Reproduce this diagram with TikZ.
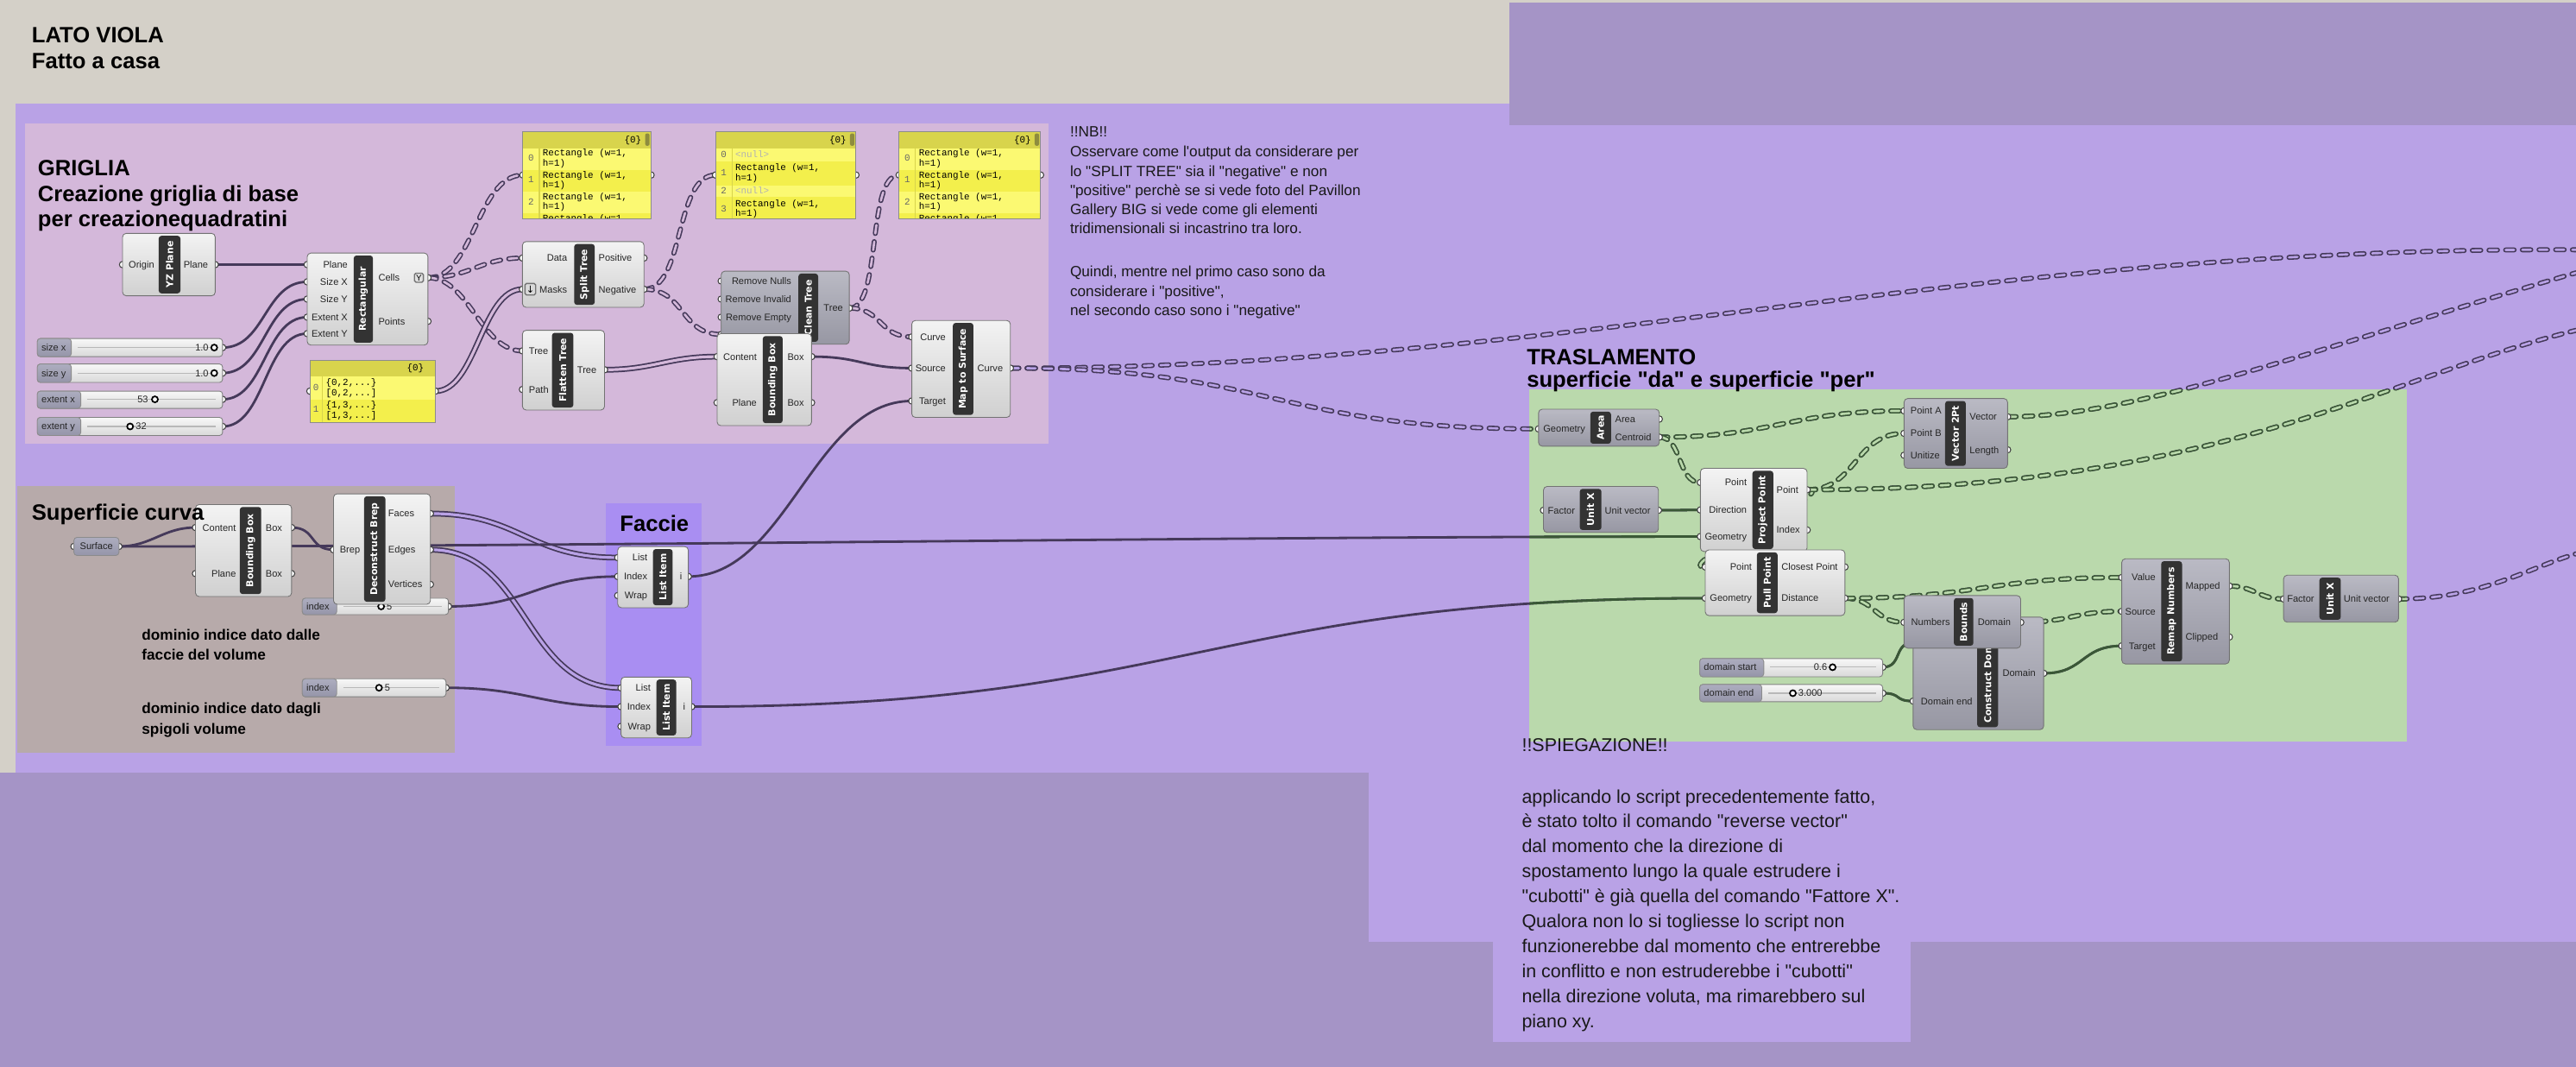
\documentclass[tikz,border=0pt]{standalone}
\usepackage{fontspec}
\setmainfont{Liberation Sans}
\newfontfamily\lib{Liberation Sans}
\newfontfamily\djv{DejaVu Sans}
\newfontfamily\monofam{Liberation Mono}
\usetikzlibrary{calc}

\definecolor{beige}{HTML}{D4D0C8}
\definecolor{darkpg}{HTML}{A594C6}
\definecolor{purp}{HTML}{B9A2E6}
\definecolor{pinkg}{HTML}{D4B8DA}
\definecolor{browng}{HTML}{B7AAAA}
\definecolor{facg}{HTML}{A98EF2}
\definecolor{greeng}{HTML}{BAD9AC}
\definecolor{wirep}{HTML}{45395A}
\definecolor{wireg}{HTML}{3A5836}
\definecolor{cLt}{HTML}{F3F3F3}
\definecolor{cLb}{HTML}{D0D0D0}
\definecolor{cDt}{HTML}{BABAC4}
\definecolor{cDb}{HTML}{9797A3}
\definecolor{slT}{HTML}{ADADBF}
\definecolor{slB}{HTML}{9595A9}
\definecolor{panY}{HTML}{F3EF4C}
\definecolor{panL}{HTML}{FBF972}
\definecolor{panH}{HTML}{D8D44C}
\definecolor{panS}{HTML}{8E8C3E}

\newcommand\gu{0.5417pt}
\newcommand\labf{\lib\fontsize{3.15}{3.6}\selectfont}
\newcommand\stripf{\djv\bfseries\fontsize{3.1}{3.5}\selectfont}
\newcommand\monf{\monofam\fontsize{3.1}{3.6}\selectfont}

\tikzset{
 cL/.style={draw=black!55, line width=0.25pt, rounded corners=1.2pt, top color=cLt, bottom color=cLb, inner sep=0pt, outer sep=0pt},
 cD/.style={draw=black!55, line width=0.25pt, rounded corners=1.2pt, top color=cDt, bottom color=cDb, inner sep=0pt, outer sep=0pt},
 slbody/.style={draw=black!50, line width=0.25pt, rounded corners=1pt, top color=white!97!black, bottom color=white!85!black, inner sep=0pt, outer sep=0pt},
 sllab/.style={draw=black!45, line width=0.25pt, rounded corners=1pt, top color=slT, bottom color=slB, inner sep=0pt, outer sep=0pt},
 panbox/.style={fill=panY, inner sep=0pt, outer sep=0pt},
 stripbox/.style={fill=black!80, rounded corners=0.9pt, inner sep=0pt, outer sep=0pt},
 striptext/.style={text=white, font=\stripf, rotate=90, inner sep=0pt},
 pl/.style={font=\labf, text=black!85, inner sep=0pt, text height=2.26pt, text depth=0pt},
 mt/.style={font=\monf, inner sep=0pt, text height=1.9pt, text depth=0pt, anchor=west},
 mi/.style={mt, text=black!60},
 mn/.style={mt, text=black!30},
 ttl/.style={font=\lib\bfseries\fontsize{7.3}{8}\selectfont, inner sep=0pt, text height=5.23pt, text depth=0pt, anchor=west},
 nbt/.style={font=\lib\fontsize{4.9}{6}\selectfont, inner sep=0pt, text height=3.51pt, text depth=0pt, anchor=west, text=black!90},
 dmt/.style={font=\lib\bfseries\fontsize{4.9}{6}\selectfont, inner sep=0pt, text height=3.51pt, text depth=0pt, anchor=west},
 spt/.style={font=\lib\fontsize{6.1}{7}\selectfont, inner sep=0pt, text height=4.37pt, text depth=0pt, anchor=west, text=black!90},
 sw/.style={draw=wirep, line width=0.8pt},
 swg/.style={draw=wireg, line width=0.8pt},
 lw/.style={draw=wirep, line width=0.5pt, double=#1, double distance=0.9pt},
 tw/.style={draw=wirep, line width=0.45pt, double=#1, double distance=0.75pt, dash pattern=on 2.8pt off 2.7pt, line cap=round},
 twg/.style={draw=wireg, line width=0.45pt, double=#1, double distance=0.75pt, dash pattern=on 2.8pt off 2.7pt, line cap=round},
 mkr/.style={circle, draw=black, line width=0.5pt, fill=white, minimum size=2pt, inner sep=0pt},
}

\newcommand\ghbox[6]{\node[#6, anchor=north west, minimum width={(#4-#2)*\gu}, minimum height={(#5-#3)*\gu}] (#1) at (#2,#3) {};}
\newcommand\ghstrip[6]{\node[stripbox, anchor=north west, minimum width={(#4-#2)*\gu}, minimum height={(#5-#3)*\gu}] (#1) at (#2,#3) {};\node[striptext] (#1-t) at (#1.center) {#6};}
\newcommand\pc[1]{\filldraw[fill=white, draw=black!75, line width=0.3pt] (#1) circle (1.05pt);}
\newcommand\wire[4]{\draw[#1] (#2) .. controls +(#4,0) and +(-#4,0) .. (#3);}
\newcommand\ghslider[8]{%
 \node[slbody, anchor=north west, minimum width={(#4-#2)*\gu}, minimum height={(#5-#3)*\gu}] (#1) at (#2,#3) {};%
 \node[sllab, anchor=north west, minimum width={(#6-#2)*\gu}, minimum height={(#5-#3)*\gu}] (#1-l) at (#2,#3) {};%
 \node[pl, anchor=west] (#1-t) at (#2+2.2,#7) {#8};%
 \draw[black!28, line width=0.3pt] (#6+4,#7) -- (#4-4,#7);}

\newcommand\rpanel[3]{%
\begin{scope}[shift={(#2,80.2)}]
 \node[panbox, anchor=north west, minimum width=#3*\gu, minimum height=52.8*\gu] (#1) at (0,0) {};
 \begin{scope}
  \clip (0,0) rectangle (#3,52.8);
  \fill[panH] (0,0) rectangle (#3,10);
  \fill[panL] (0,10) rectangle (#3,23.1);
  \fill[panL] (0,36.2) rectangle (#3,49.3);
  \draw[panH, line width=0.3pt] (10,10) -- (10,52.8);
  \node[mt, anchor=east] (#1-h) at (#3-5.5,4.9) {\{0\}};
  \fill[panS, rounded corners=0.6pt] (#3-3.6,1) rectangle (#3-0.9,8.5);
  \node[mi, anchor=center] (#1-n0) at (5,15.8) {0};
  \node[mt] (#1-a0) at (11.7,12.8) {Rectangle (w=1,};
  \node[mt] (#1-b0) at (11.7,19.1) {h=1)};
  \node[mi, anchor=center] (#1-n1) at (5,29.2) {1};
  \node[mt] (#1-a1) at (11.7,26.3) {Rectangle (w=1,};
  \node[mt] (#1-b1) at (11.7,32.3) {h=1)};
  \node[mi, anchor=center] (#1-n2) at (5,42.8) {2};
  \node[mt] (#1-a2) at (11.7,39.7) {Rectangle (w=1,};
  \node[mt] (#1-b2) at (11.7,45.5) {h=1)};
  \node[mt] (#1-a3) at (11.7,52.6) {Rectangle (w=1};
 \end{scope}
 \draw[black!45, line width=0.3pt] (0,0) rectangle (#3,52.8);
\end{scope}}

\newcommand\gwires[2]{%
 \draw[#1] (ms-o) .. controls +(160,0) and +(-160,0) .. (ar-i);
 \draw[#2] (sf-o) .. controls +(300,0) and +(-300,0) .. (pp-i3);
 \draw[#2] (li2-o) .. controls +(300,0) and +(-300,0) .. (pl-i2);
 \draw[#1] (ar-o2) .. controls +(70,0) and +(-70,0) .. (v2-i1);
 \draw[#1] (ar-o2) .. controls +(14,0) and +(-14,0) .. (pp-i1);
 \draw[#2] (ux1-o) -- (pp-i2);
 \draw[#1] (pp-o1) .. controls +(30,0) and +(-30,0) .. (v2-i2);
 \draw[#1] (pp-o1) .. controls +(22,0) and +(-22,0) .. (pl-i1);
 \draw[#1] (pp-o1) .. controls (1350,298) and (1450,230) .. (e3);
 \draw[#1] (v2-o1) .. controls (1300,253.6) and (1400,215) .. (e2);
 \draw[#1] (pl-o2) .. controls +(18,0) and +(-18,0) .. (bd-i);
 \draw[#1] (pl-o2) .. controls +(80,0) and +(-80,0) .. (rm-i1);
 \draw[#1] (bd-o) .. controls +(30,0) and +(-30,0) .. (rm-i2);
 \draw[#2] (ds-o) .. controls +(12,0) and +(-12,0) .. (cd-i1);
 \draw[#2] (de-o) .. controls +(12,0) and +(-12,0) .. (cd-i2);
 \draw[#2] (cd-o) .. controls +(25,0) and +(-25,0) .. (rm-i3);
 \draw[#1] (rm-o1) .. controls +(15,0) and +(-15,0) .. (ux2-i);
 \draw[#1] (ux2-o) .. controls (1510,364.5) and (1540,345) .. (e4);
}

\begin{document}
\begin{tikzpicture}[x=0.01904cm,y=-0.01904cm]
\lib
\useasboundingbox (0,0) rectangle (1568,649);
% ---------- backgrounds ----------
\fill[beige] (0,0) rectangle (1568,649);
\fill[purp] (9.5,63) rectangle (1568,470);
\fill[purp] (833,470) rectangle (1568,573);
\fill[darkpg] (0,470) rectangle (833,649);
\fill[darkpg] (833,573) rectangle (1568,649);
\fill[darkpg] (918.6,1.5) rectangle (1568,76);
\fill[pinkg] (15,75) rectangle (638,270);
\fill[browng] (10.5,296) rectangle (277,458);
\fill[facg] (369,306) rectangle (427,454);
\fill[purp] (909,440) rectangle (1163,634);
\fill[greeng] (931,237) rectangle (1465,451);

% ---------- port coordinates ----------
\coordinate (yz-i) at (74.6,161); \coordinate (yz-o) at (131,161);
\coordinate (rect-i1) at (187,161); \coordinate (rect-i2) at (187,171.5);
\coordinate (rect-i3) at (187,182); \coordinate (rect-i4) at (187,193);
\coordinate (rect-i5) at (187,203); \coordinate (rect-o1) at (260.5,169);
\coordinate (rect-o2) at (260.5,195.5);
\coordinate (sx-o) at (135.5,211.5); \coordinate (sy-o) at (135.5,227);
\coordinate (ex-o) at (135.5,243); \coordinate (ey-o) at (135.5,259.5);
\coordinate (mp-i) at (188.6,238); \coordinate (mp-o) at (265,238);
\coordinate (p1-i) at (318.3,106.5); \coordinate (p1-o) at (396.3,106.5);
\coordinate (p2-i) at (435.5,106.5); \coordinate (p2-o) at (521,106.5);
\coordinate (p3-i) at (547.3,106.5); \coordinate (p3-o) at (633.4,106.5);
\coordinate (st-i1) at (318,157); \coordinate (st-i2) at (318,176);
\coordinate (st-o1) at (392,157); \coordinate (st-o2) at (392,176);
\coordinate (ft-i1) at (318,213.5); \coordinate (ft-i2) at (318,237); \coordinate (ft-o) at (368,225);
\coordinate (ct-i1) at (439,171); \coordinate (ct-i2) at (439,182);
\coordinate (ct-i3) at (439,193); \coordinate (ct-i4) at (439,203.5); \coordinate (ct-o) at (517,187.5);
\coordinate (bb1-i1) at (436.5,217); \coordinate (bb1-i2) at (436.5,245);
\coordinate (bb1-o1) at (494,217); \coordinate (bb1-o2) at (494,245);
\coordinate (ms-i1) at (555,205); \coordinate (ms-i2) at (555,224);
\coordinate (ms-i3) at (555,244); \coordinate (ms-o) at (615,224);
\coordinate (sf-i) at (45,332.5); \coordinate (sf-o) at (72.4,332.5);
\coordinate (bb2-i1) at (119,321); \coordinate (bb2-i2) at (119,349);
\coordinate (bb2-o1) at (177.5,321); \coordinate (bb2-o2) at (177.5,349);
\coordinate (db-i) at (203,334.5); \coordinate (db-o1) at (262,312.5);
\coordinate (db-o2) at (262,334.5); \coordinate (db-o3) at (262,355.6);
\coordinate (ix1-o) at (273,369); \coordinate (ix2-o) at (271.5,418.5);
\coordinate (li1-i1) at (376,339.3); \coordinate (li1-i2) at (376,350.8);
\coordinate (li1-i3) at (376,362.4); \coordinate (li1-o) at (419,350.8);
\coordinate (li2-i1) at (378,418.6); \coordinate (li2-i2) at (378,430);
\coordinate (li2-i3) at (378,442); \coordinate (li2-o) at (421,430);
\coordinate (ar-i) at (936.5,261); \coordinate (ar-o1) at (1010,255); \coordinate (ar-o2) at (1010,266);
\coordinate (ux1-i) at (939.5,310.5); \coordinate (ux1-o) at (1009.5,310.5);
\coordinate (pp-i1) at (1035,293.6); \coordinate (pp-i2) at (1035,310.3);
\coordinate (pp-i3) at (1035,326.5); \coordinate (pp-o1) at (1100,298); \coordinate (pp-o2) at (1100,322.5);
\coordinate (pl-i1) at (1038,345); \coordinate (pl-i2) at (1038,364);
\coordinate (pl-o1) at (1123,345); \coordinate (pl-o2) at (1123,364);
\coordinate (v2-i1) at (1159,250); \coordinate (v2-i2) at (1159,263.7); \coordinate (v2-i3) at (1159,277);
\coordinate (v2-o1) at (1222,253.6); \coordinate (v2-o2) at (1222,273.7);
\coordinate (bd-i) at (1159,378.7); \coordinate (bd-o) at (1230,378.7);
\coordinate (cd-i1) at (1164.5,391); \coordinate (cd-i2) at (1164.5,426.6); \coordinate (cd-o) at (1244,409.7);
\coordinate (ds-o) at (1146,406); \coordinate (de-o) at (1146,421.8);
\coordinate (rm-i1) at (1291.5,351.4); \coordinate (rm-i2) at (1291.5,372); \coordinate (rm-i3) at (1291.5,393);
\coordinate (rm-o1) at (1357,356.6); \coordinate (rm-o2) at (1357,387.6);
\coordinate (ux2-i) at (1390,364.5); \coordinate (ux2-o) at (1460,364.5);
\coordinate (e1) at (1568,152); \coordinate (e2) at (1568,166);
\coordinate (e3) at (1568,201); \coordinate (e4) at (1568,337);

% ---------- wires ----------
\wire{sw}{yz-o}{rect-i1}{20}
\wire{sw}{sx-o}{rect-i2}{26}
\wire{sw}{sy-o}{rect-i3}{26}
\wire{sw}{ex-o}{rect-i4}{26}
\wire{sw}{ey-o}{rect-i5}{26}
\wire{tw=pinkg}{rect-o1}{p1-i}{28}
\wire{tw=pinkg}{rect-o1}{st-i1}{25}
\wire{tw=pinkg}{rect-o1}{ft-i1}{25}
\wire{lw=pinkg}{mp-o}{st-i2}{25}
\wire{tw=pinkg}{st-o2}{p2-i}{25}
\wire{tw=pinkg}{st-o2}{ct-i4}{25}
\wire{tw=pinkg}{ct-o}{p3-i}{20}
\wire{tw=pinkg}{ct-o}{ms-i1}{20}
\wire{lw=pinkg}{ft-o}{bb1-i1}{30}
\wire{sw}{bb1-o1}{ms-i2}{30}
\wire{sw}{li1-o}{ms-i3}{60}
\draw[tw=purp] (ms-o) .. controls (950,224) and (1200,150) .. (e1);
\wire{sw}{sf-o}{bb2-i1}{20}
\wire{sw}{bb2-o1}{db-i}{15}
\wire{lw=purp}{db-o1}{li1-i1}{55}
\wire{lw=purp}{db-o2}{li2-i1}{60}
\wire{sw}{ix1-o}{li1-i2}{50}
\wire{sw}{ix2-o}{li2-i2}{50}
\gwires{tw=purp}{sw}
\begin{scope}
 \clip (931,237) rectangle (1465,451);
 \gwires{twg=greeng}{swg}
\end{scope}

% ---------- GRIGLIA components ----------
\pc{yz-i}\pc{yz-o}
\ghbox{yz}{74.6}{142}{131}{180}{cL}
\ghstrip{yz-s}{96.6}{143.5}{109.8}{178.5}{YZ Plane}
\node[pl, anchor=west] (yz-l1) at (78,161) {Origin};
\node[pl, anchor=east] (yz-l2) at (127,161) {Plane};

\pc{rect-i1}\pc{rect-i2}\pc{rect-i3}\pc{rect-i4}\pc{rect-i5}\pc{rect-o1}\pc{rect-o2}
\ghbox{rect}{187}{154}{260.5}{210}{cL}
\ghstrip{rect-s}{215.3}{155.5}{227}{208.5}{Rectangular}
\node[pl, anchor=east] (rect-l1) at (212,161) {Plane};
\node[pl, anchor=east] (rect-l2) at (212,171.5) {Size X};
\node[pl, anchor=east] (rect-l3) at (212,182) {Size Y};
\node[pl, anchor=east] (rect-l4) at (212,193) {Extent X};
\node[pl, anchor=east] (rect-l5) at (212,203) {Extent Y};
\node[pl, anchor=west] (rect-l6) at (230,169) {Cells};
\node[pl, anchor=west] (rect-l7) at (230,195.5) {Points};
\node[draw=black!55, fill=white!88!black, rounded corners=0.5pt, minimum width=5.5*\gu, minimum height=5.5*\gu, inner sep=0pt, font=\lib\fontsize{2.8}{3}\selectfont] (rect-g) at (255,169) {Y};

\pc{sx-o}\ghslider{sx}{22.7}{206}{135.5}{217}{43.4}{211.5}{size x}
\node[pl, anchor=east] (sx-v) at (127.3,211.5) {1.0}; \node[mkr] (sx-m) at (130.4,211.5) {};
\pc{sy-o}\ghslider{sy}{22.7}{221.5}{135.5}{232.7}{43.4}{227}{size y}
\node[pl, anchor=east] (sy-v) at (127.3,227) {1.0}; \node[mkr] (sy-m) at (130.4,227) {};
\pc{ex-o}\ghslider{ex}{22.7}{238}{135.5}{248.5}{49.2}{243}{extent x}
\node[pl, anchor=east] (ex-v) at (90.5,243) {53}; \node[mkr] (ex-m) at (94.3,243) {};
\pc{ey-o}\ghslider{ey}{22.7}{254}{135.5}{265}{49.2}{259.5}{extent y}
\node[mkr] (ey-m) at (79.2,259.5) {}; \node[pl, anchor=west] (ey-v) at (82.3,259.5) {32};

% mask panel
\pc{mp-i}\pc{mp-o}
\begin{scope}[shift={(188.6,219.5)}]
 \node[panbox, anchor=north west, minimum width=76.4*\gu, minimum height=37.5*\gu] (mp) at (0,0) {};
 \fill[panH] (0,0) rectangle (76.4,9.5);
 \fill[panL] (0,9.5) rectangle (76.4,23.5);
 \draw[panH, line width=0.3pt] (7.4,9.5) -- (7.4,37.5);
 \node[mt, anchor=east] (mp-h) at (69.8,4.4) {\{0\}};
 \node[mi, anchor=center] (mp-n0) at (3.7,16.5) {0};
 \node[mt] (mp-a0) at (9.4,13.3) {\{0,2,...\}};
 \node[mt] (mp-b0) at (9.4,19.5) {[0,2,...]};
 \node[mi, anchor=center] (mp-n1) at (3.7,29.5) {1};
 \node[mt] (mp-a1) at (9.4,27) {\{1,3,...\}};
 \node[mt] (mp-b1) at (9.4,33) {[1,3,...]};
 \draw[black!45, line width=0.3pt] (0,0) rectangle (76.4,37.5);
\end{scope}

\pc{p1-i}\pc{p1-o}\rpanel{p1}{318.3}{78}
\pc{p3-i}\pc{p3-o}\rpanel{p3}{547.3}{86.1}
% panel 2
\pc{p2-i}\pc{p2-o}
\begin{scope}[shift={(435.5,80.2)}]
 \node[panbox, anchor=north west, minimum width=85.5*\gu, minimum height=52.8*\gu] (p2) at (0,0) {};
 \fill[panH] (0,0) rectangle (85.5,10);
 \fill[panL] (0,10) rectangle (85.5,17.8);
 \fill[panL] (0,32.7) rectangle (85.5,39.7);
 \draw[panH, line width=0.3pt] (10,10) -- (10,52.8);
 \node[mt, anchor=east] (p2-h) at (80,4.9) {\{0\}};
 \fill[panS, rounded corners=0.6pt] (81.9,1) rectangle (84.6,8.5);
 \node[mi, anchor=center] (p2-n0) at (5,14) {0};
 \node[mn] (p2-a0) at (11.7,14) {<null>};
 \node[mi, anchor=center] (p2-n1) at (5,24.8) {1};
 \node[mt] (p2-a1) at (11.7,21.9) {Rectangle (w=1,};
 \node[mt] (p2-b1) at (11.7,28) {h=1)};
 \node[mi, anchor=center] (p2-n2) at (5,35.8) {2};
 \node[mn] (p2-a2) at (11.7,35.8) {<null>};
 \node[mi, anchor=center] (p2-n3) at (5,46.8) {3};
 \node[mt] (p2-a3) at (11.7,43.8) {Rectangle (w=1,};
 \node[mt] (p2-b3) at (11.7,49.8) {h=1)};
 \draw[black!45, line width=0.3pt] (0,0) rectangle (85.5,52.8);
\end{scope}

\pc{st-i1}\pc{st-i2}\pc{st-o1}\pc{st-o2}
\ghbox{st}{318}{147}{392}{187}{cL}
\ghstrip{st-s}{349.5}{148.5}{362}{185.5}{Split Tree}
\node[pl, anchor=east] (st-l1) at (345.6,157) {Data};
\node[pl, anchor=east] (st-l2) at (345.6,176) {Masks};
\node[pl, anchor=west] (st-l3) at (364,157) {Positive};
\node[pl, anchor=west] (st-l4) at (364,176) {Negative};
\node[draw=black!55, fill=white!85!black, rounded corners=0.5pt, minimum width=6.5*\gu, minimum height=7*\gu, inner sep=0pt, font=\djv\fontsize{3.2}{3.2}\selectfont] (st-ic) at (322.8,176) {↓};

\pc{ft-i1}\pc{ft-i2}\pc{ft-o}
\ghbox{ft}{318}{201}{368}{249.5}{cL}
\ghstrip{ft-s}{336}{202.5}{349}{248}{Flatten Tree}
\node[pl, anchor=west] (ft-l1) at (321.6,213.5) {Tree};
\node[pl, anchor=west] (ft-l2) at (321.6,237) {Path};
\node[pl, anchor=west] (ft-l3) at (351,225) {Tree};

\pc{ct-i1}\pc{ct-i2}\pc{ct-i3}\pc{ct-i4}\pc{ct-o}
\ghbox{ct}{439}{165}{517}{209.5}{cD}
\ghstrip{ct-s}{486}{166.5}{498}{208}{Clean Tree}
\node[pl, anchor=east] (ct-l1) at (482,171) {Remove Nulls};
\node[pl, anchor=east] (ct-l2) at (482,182) {Remove Invalid};
\node[pl, anchor=east] (ct-l3) at (482,193) {Remove Empty};
\node[pl, anchor=west] (ct-l4) at (501,187.5) {Tree};

\pc{bb1-i1}\pc{bb1-i2}\pc{bb1-o1}\pc{bb1-o2}
\ghbox{bb1}{436.5}{203}{494}{259}{cL}
\ghstrip{bb1-s}{464.3}{204.5}{476.4}{257.5}{Bounding Box}
\node[pl, anchor=east] (bb1-l1) at (461,217) {Content};
\node[pl, anchor=east] (bb1-l2) at (461,245) {Plane};
\node[pl, anchor=west] (bb1-l3) at (479,217) {Box};
\node[pl, anchor=west] (bb1-l4) at (479,245) {Box};

\pc{ms-i1}\pc{ms-i2}\pc{ms-i3}\pc{ms-o}
\ghbox{ms}{555}{195}{615}{254}{cL}
\ghstrip{ms-s}{580}{196.5}{592.5}{252.5}{Map to Surface}
\node[pl, anchor=east] (ms-l1) at (576,205) {Curve};
\node[pl, anchor=east] (ms-l2) at (576,224) {Source};
\node[pl, anchor=east] (ms-l3) at (576,244) {Target};
\node[pl, anchor=west] (ms-l4) at (594.6,224) {Curve};

% ---------- Superficie curva ----------
\pc{sf-i}\pc{sf-o}
\node[sllab, anchor=north west, minimum width=27.4*\gu, minimum height=11*\gu] (sf) at (45,327) {};
\node[pl] (sf-t) at (sf.center) {Surface};

\pc{bb2-i1}\pc{bb2-i2}\pc{bb2-o1}\pc{bb2-o2}
\ghbox{bb2}{119}{307}{177.5}{363}{cL}
\ghstrip{bb2-s}{146}{308.5}{159}{361.5}{Bounding Box}
\node[pl, anchor=east] (bb2-l1) at (144,321) {Content};
\node[pl, anchor=east] (bb2-l2) at (144,349) {Plane};
\node[pl, anchor=west] (bb2-l3) at (161.4,321) {Box};
\node[pl, anchor=west] (bb2-l4) at (161.4,349) {Box};

\pc{ix1-o}\ghslider{ix1}{184}{364}{273}{374}{205}{369}{index}
\node[mkr] (ix1-m) at (232,369) {}; \node[pl, anchor=west] (ix1-v) at (235,369) {5};

\pc{db-i}\pc{db-o1}\pc{db-o2}\pc{db-o3}
\ghbox{db}{203}{300.5}{262}{367.7}{cL}
\ghstrip{db-s}{221.6}{302}{234.6}{366.2}{Deconstruct Brep}
\node[pl, anchor=west] (db-l1) at (206.5,334.5) {Brep};
\node[pl, anchor=west] (db-l2) at (236,312.5) {Faces};
\node[pl, anchor=west] (db-l3) at (236,334.5) {Edges};
\node[pl, anchor=west] (db-l4) at (236,355.6) {Vertices};

\pc{ix2-o}\ghslider{ix2}{184}{413}{271.5}{424}{205}{418.5}{index}
\node[mkr] (ix2-m) at (230.7,418.5) {}; \node[pl, anchor=west] (ix2-v) at (233.8,418.5) {5};

% ---------- Faccie ----------
\pc{li1-i1}\pc{li1-i2}\pc{li1-i3}\pc{li1-o}
\ghbox{li1}{376}{332.6}{419}{369.8}{cL}
\ghstrip{li1-s}{397.5}{334.1}{409.4}{368.3}{List Item}
\node[pl, anchor=east] (li1-l1) at (394.4,339.3) {List};
\node[pl, anchor=east] (li1-l2) at (394.4,350.8) {Index};
\node[pl, anchor=east] (li1-l3) at (394.4,362.4) {Wrap};
\node[pl, anchor=west] (li1-l4) at (413.2,350.8) {i};

\pc{li2-i1}\pc{li2-i2}\pc{li2-i3}\pc{li2-o}
\ghbox{li2}{378}{412}{421}{449}{cL}
\ghstrip{li2-s}{399.6}{413.5}{411.6}{447.5}{List Item}
\node[pl, anchor=east] (li2-l1) at (396.4,418.6) {List};
\node[pl, anchor=east] (li2-l2) at (396.4,430) {Index};
\node[pl, anchor=east] (li2-l3) at (396.4,442) {Wrap};
\node[pl, anchor=west] (li2-l4) at (415.2,430) {i};

% ---------- TRASLAMENTO ----------
\pc{ar-i}\pc{ar-o1}\pc{ar-o2}
\ghbox{ar}{936.5}{249}{1010}{271.5}{cD}
\ghstrip{ar-s}{968}{250.5}{980.6}{270}{Area}
\node[pl, anchor=east] (ar-l1) at (965.3,261) {Geometry};
\node[pl, anchor=west] (ar-l2) at (982.8,255) {Area};
\node[pl, anchor=west] (ar-l3) at (982.8,266) {Centroid};

\pc{ux1-i}\pc{ux1-o}
\ghbox{ux1}{939.5}{296}{1009.5}{324}{cD}
\ghstrip{ux1-s}{961.6}{297.5}{974.8}{322.5}{Unit X}
\node[pl, anchor=east] (ux1-l1) at (959,310.5) {Factor};
\node[pl, anchor=west] (ux1-l2) at (976.5,310.5) {Unit vector};

\pc{pp-i1}\pc{pp-i2}\pc{pp-i3}\pc{pp-o1}\pc{pp-o2}
\ghbox{pp}{1035}{285}{1100}{335.6}{cL}
\ghstrip{pp-s}{1066.7}{286.5}{1079.4}{334.1}{Project Point}
\node[pl, anchor=east] (pp-l1) at (1063.6,293.6) {Point};
\node[pl, anchor=east] (pp-l2) at (1063.6,310.3) {Direction};
\node[pl, anchor=east] (pp-l3) at (1063.6,326.5) {Geometry};
\node[pl, anchor=west] (pp-l4) at (1081,298) {Point};
\node[pl, anchor=west] (pp-l5) at (1081,322.5) {Index};

\pc{pl-i1}\pc{pl-i2}\pc{pl-o1}\pc{pl-o2}
\ghbox{pull}{1038}{334.6}{1123}{374.6}{cL}
\ghstrip{pull-s}{1069.4}{336.1}{1082}{373.1}{Pull Point}
\node[pl, anchor=east] (pull-l1) at (1066.7,345) {Point};
\node[pl, anchor=east] (pull-l2) at (1066.7,364) {Geometry};
\node[pl, anchor=west] (pull-l3) at (1084,345) {Closest Point};
\node[pl, anchor=west] (pull-l4) at (1084,364) {Distance};

\pc{v2-i1}\pc{v2-i2}\pc{v2-i3}\pc{v2-o1}\pc{v2-o2}
\ghbox{v2}{1159}{242.5}{1222}{285}{cD}
\ghstrip{v2-s}{1184}{244}{1196.6}{283.5}{Vector 2Pt}
\node[pl, anchor=west] (v2-l1) at (1162.6,250) {Point A};
\node[pl, anchor=west] (v2-l2) at (1162.6,263.7) {Point B};
\node[pl, anchor=west] (v2-l3) at (1162.6,277) {Unitize};
\node[pl, anchor=west] (v2-l4) at (1198.6,253.6) {Vector};
\node[pl, anchor=west] (v2-l5) at (1198.6,273.7) {Length};

\pc{ds-o}\ghslider{ds}{1034.6}{400.7}{1146}{411.8}{1073.6}{406}{domain start}
\node[pl, anchor=east] (ds-v) at (1112.5,406) {0.6}; \node[mkr] (ds-m) at (1115.5,406) {};
\pc{de-o}\ghslider{de}{1034.6}{416.5}{1146}{427}{1072.4}{421.8}{domain end}
\node[mkr] (de-m) at (1091.3,421.8) {}; \node[pl, anchor=west] (de-v) at (1094.3,421.8) {3.000};

\pc{cd-i1}\pc{cd-i2}\pc{cd-o}
\ghbox{cd}{1164.5}{375.5}{1244}{444}{cD}
\node[stripbox, anchor=north west, minimum width=12.7*\gu, minimum height=65.5*\gu] (cd-s) at (1203.5,377) {};
\node[striptext, anchor=west] (cd-s-t) at (1209.85,440.5) {Construct Domain};
\node[pl, anchor=east] (cd-l1) at (1201,426.6) {Domain end};
\node[pl, anchor=west] (cd-l2) at (1218.6,409.7) {Domain};

\pc{bd-i}\pc{bd-o}
\ghbox{bd}{1159}{362.4}{1230}{394.4}{cD}
\ghstrip{bd-s}{1189.3}{363.9}{1201.2}{392.9}{Bounds}
\node[pl, anchor=west] (bd-l1) at (1163,378.7) {Numbers};
\node[pl, anchor=west] (bd-l2) at (1203.5,378.7) {Domain};

\pc{rm-i1}\pc{rm-i2}\pc{rm-i3}\pc{rm-o1}\pc{rm-o2}
\ghbox{rm}{1291.5}{340}{1357}{404}{cD}
\ghstrip{rm-s}{1315.5}{341.5}{1328.2}{402.5}{Remap Numbers}
\node[pl, anchor=east] (rm-l1) at (1312.4,351.4) {Value};
\node[pl, anchor=east] (rm-l2) at (1312.4,372) {Source};
\node[pl, anchor=east] (rm-l3) at (1312.4,393) {Target};
\node[pl, anchor=west] (rm-l4) at (1330,356.6) {Mapped};
\node[pl, anchor=west] (rm-l5) at (1330,387.6) {Clipped};

\pc{ux2-i}\pc{ux2-o}
\ghbox{ux2}{1390}{350}{1460}{378.6}{cD}
\ghstrip{ux2-s}{1411.8}{351.5}{1424.8}{377.1}{Unit X}
\node[pl, anchor=east] (ux2-l1) at (1409,364.5) {Factor};
\node[pl, anchor=west] (ux2-l2) at (1426.3,364.5) {Unit vector};

% ---------- titles and texts ----------
\node[ttl] (t-lv1) at (19,21) {LATO VIOLA};
\node[ttl] (t-lv2) at (19,36.8) {Fatto a casa};
\node[ttl] (t-gr1) at (22.7,102) {GRIGLIA};
\node[ttl] (t-gr2) at (22.7,118) {Creazione griglia di base};
\node[ttl] (t-gr3) at (22.7,133) {per creazionequadratini};
\node[ttl] (t-sc) at (19,311.5) {Superficie curva};
\node[ttl] (t-fa) at (377,318.6) {Faccie};
\node[ttl] (t-tr1) at (929,217) {TRASLAMENTO};
\node[ttl] (t-tr2) at (929,231) {superficie "da" e superficie "per"};

\node[dmt] (d1) at (86,386.5) {dominio indice dato dalle};
\node[dmt] (d2) at (86,398.6) {faccie del volume};
\node[dmt] (d3) at (86,430.7) {dominio indice dato dagli};
\node[dmt] (d4) at (86,443.3) {spigoli volume};

\node[nbt] (nb1) at (651,80) {!!NB!!};
\node[nbt] (nb2) at (651,92) {Osservare come l'output da considerare per};
\node[nbt] (nb3) at (651,104) {lo "SPLIT TREE" sia il "negative" e non};
\node[nbt] (nb4) at (651,115.5) {"positive" perchè se si vede foto del Pavillon};
\node[nbt] (nb5) at (651,127.5) {Gallery BIG si vede come gli elementi};
\node[nbt] (nb6) at (651,139) {tridimensionali si incastrino tra loro.};
\node[nbt] (nb7) at (651,165) {Quindi, mentre nel primo caso sono da};
\node[nbt] (nb8) at (651,177) {considerare i "positive",};
\node[nbt] (nb9) at (651,189) {nel secondo caso sono i "negative"};

\node[spt] (sp0) at (926,453) {!!SPIEGAZIONE!!};
\node[spt] (sp1) at (926,484.5) {applicando lo script precedentemente fatto,};
\node[spt] (sp2) at (926,499.7) {è stato tolto il comando "reverse vector"};
\node[spt] (sp3) at (926,514.9) {dal momento che la direzione di};
\node[spt] (sp4) at (926,530.1) {spostamento lungo la quale estrudere i};
\node[spt] (sp5) at (926,545.3) {"cubotti" è già quella del comando "Fattore X".};
\node[spt] (sp6) at (926,560.5) {Qualora non lo si togliesse lo script non};
\node[spt] (sp7) at (926,575.7) {funzionerebbe dal momento che entrerebbe};
\node[spt] (sp8) at (926,590.9) {in conflitto e non estruderebbe i "cubotti"};
\node[spt] (sp9) at (926,606.1) {nella direzione voluta, ma rimarebbero sul};
\node[spt] (sp10) at (926,621.3) {piano xy.};
\end{tikzpicture}
\end{document}
